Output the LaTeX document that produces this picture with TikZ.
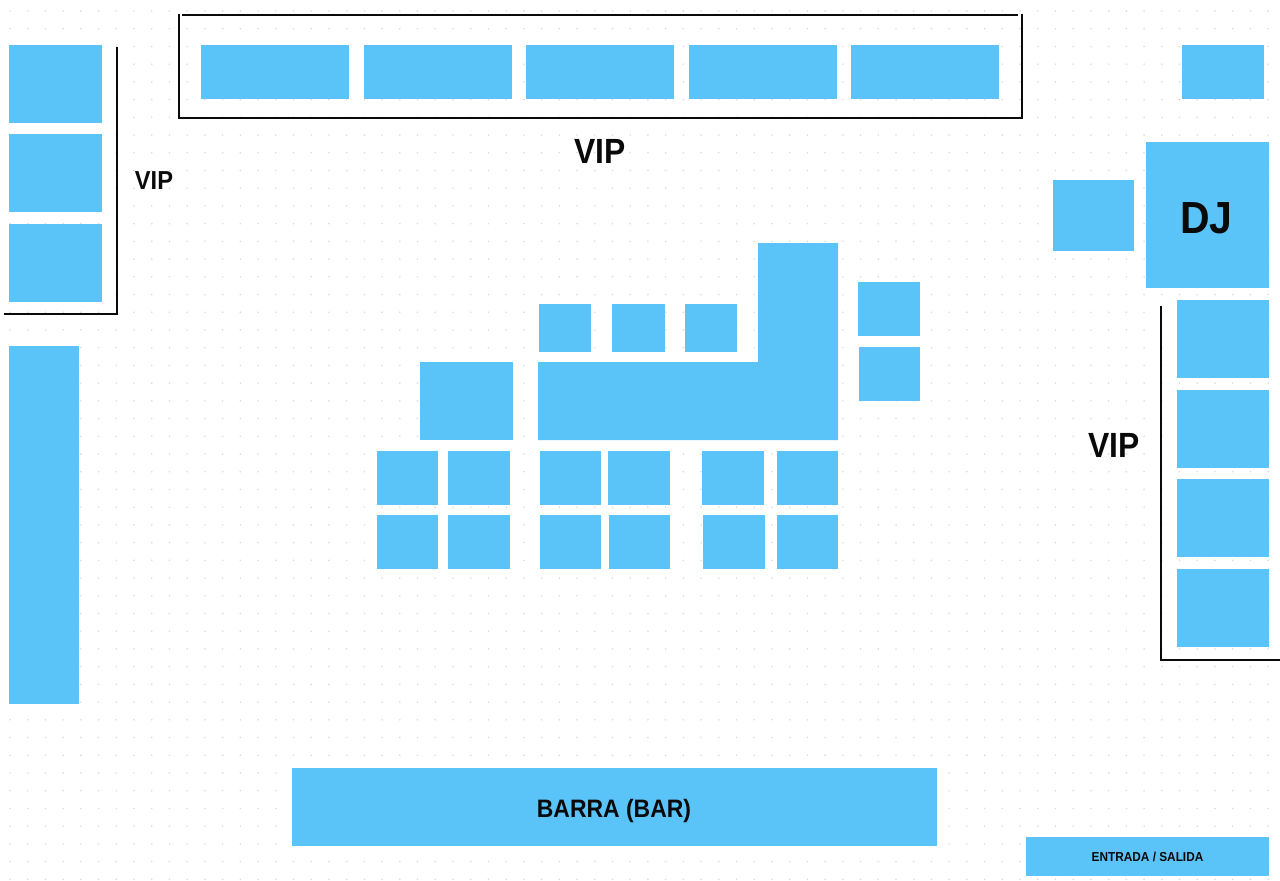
\documentclass[tikz,border=0pt]{standalone}
\usepackage{fontspec}
\setmainfont{Liberation Sans}[FakeStretch=0.91]
\definecolor{cZona}{RGB}{90,195,248}
\definecolor{cDot}{RGB}{220,220,220}
\definecolor{cMuro}{RGB}{10,10,10}
\begin{document}
\begin{tikzpicture}[
  x=0.5pt,y=-0.5pt, color=cMuro,
  zona/.style={fill=cZona, inner sep=0pt, align=center, font=\bfseries},
  wVip/.style={zona, minimum width=74pt, minimum height=27pt},
  wLat/.style={zona, minimum width=46.25pt, minimum height=39pt},
  wSm/.style ={zona, minimum width=26.25pt, minimum height=24pt},
  wGr/.style ={zona, minimum width=30.75pt, minimum height=27pt},
  wSd/.style ={zona, minimum width=30.75pt, minimum height=27pt},
  muro/.style={draw=cMuro, line width=1pt},
  rotulo/.style={inner sep=0pt, font=\bfseries\fontsize{17.5}{20}\selectfont},
]
\useasboundingbox (0,0) rectangle (1280,880);

% dotted paper: pitch 17.72 px
\foreach \i in {0,...,71}
  \foreach \j in {0,...,49}
    \fill[cDot] ({10+17.72*\i},{11+17.72*\j}) circle (0.45pt);

% ----- top VIP row ------------------------------------------------------
\foreach \i/\cx in {1/275,2/437.5,3/600,4/762.5,5/925}
  \node[wVip] (top\i) at (\cx,72) {};
\draw[muro] (182,15) -- (1018,15);
\draw[muro] (178.5,14) -- (178.5,118) -- (1021.5,118) -- (1021.5,14);
\node[rotulo] (vipTop) at (600,151) {VIP};

% ----- left VIP column --------------------------------------------------
\foreach \i/\cy in {1/84,2/173,3/263}
  \node[wLat] (izq\i) at (55.5,\cy) {};
\draw[muro] (116.5,47) -- (116.5,313.5) -- (4,313.5);
\node[rotulo, font=\bfseries\fontsize{13}{15}\selectfont] (vipIzq) at (154,181) {VIP};
\node[zona, minimum width=35pt, minimum height=179pt] (banco) at (44,525) {};

% ----- DJ corner and right VIP column -----------------------------------
\node[zona, minimum width=41pt, minimum height=27pt] (cabina) at (1223,72) {};
\node[zona, minimum width=40.5pt, minimum height=35.5pt] (mesaDj) at (1093.5,215) {};
\node[zona, minimum width=61.5pt, minimum height=73pt,
      font=\bfseries\fontsize{22.5}{26}\selectfont] (dj) at (1207.5,215) {\raisebox{-9pt}[0pt][0pt]{\kern-1pt DJ}};
\foreach \i/\cy in {1/339,2/429,3/518,4/608}
  \node[wLat] (der\i) at (1223,\cy) {};
\draw[muro] (1161,306) -- (1161,659.5) -- (1280,659.5);
\node[rotulo] (vipDer) at (1114,445) {VIP};

% ----- centre block -----------------------------------------------------
\fill[cZona] (538,362) -- (758,362) -- (758,243) -- (838,243)
             -- (838,440) -- (538,440) -- cycle;
\foreach \i/\cx in {1/565,2/638.5,3/711}
  \node[wSm] (alta\i) at (\cx,328) {};
\node[zona, minimum width=31pt, minimum height=27pt] (lado1) at (889,309) {};
\node[zona, minimum width=30.5pt, minimum height=27pt] (lado2) at (889.5,374) {};
\node[zona, minimum width=46.5pt, minimum height=39pt] (cubo) at (466.5,401) {};

\foreach \i/\cx in {1/407.5,2/479,3/570.5,4/639,5/733,6/807.5}
  \node[wGr] (fila\i) at (\cx,478) {};
\foreach \i/\cx in {1/407.5,2/479,3/570.5,4/639.5,5/734,6/807.5}
  \node[wSd] (base\i) at (\cx,542) {};

% ----- bar and way out --------------------------------------------------
\node[zona, minimum width=322.5pt, minimum height=39pt,
      font=\bfseries\fontsize{12.6}{15}\selectfont] (barra) at (614.5,807) {\raisebox{-5pt}[0pt][0pt]{\kern-0.5pt BARRA (BAR)}};
\node[zona, minimum width=121.5pt, minimum height=19.5pt,
      font=\bfseries\fontsize{6.5}{8}\selectfont] (salida) at (1147.5,856.5) {ENTRADA / SALIDA};

\end{tikzpicture}
\end{document}
